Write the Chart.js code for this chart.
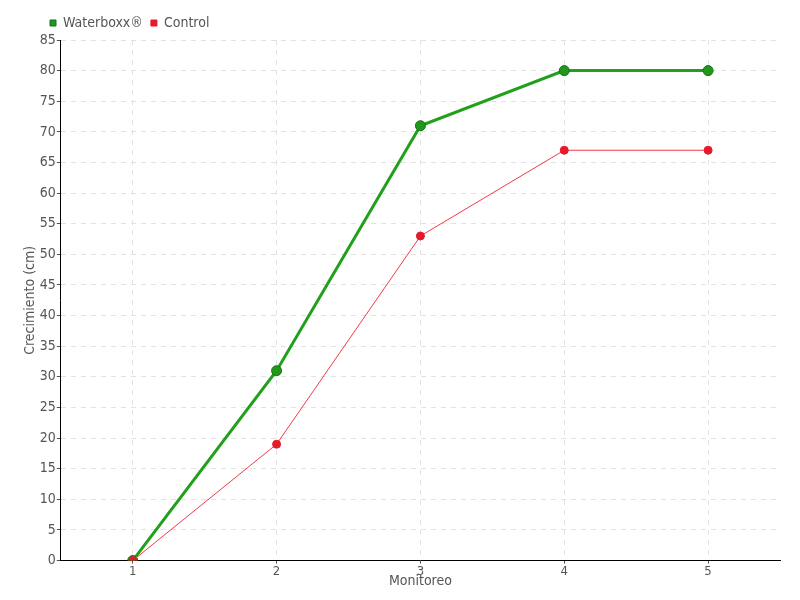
<!DOCTYPE html>
<html>
<head>
<meta charset="utf-8">
<script src="https://cdn.jsdelivr.net/npm/chart.js@4"></script>
<style>
  html, body { margin: 0; padding: 0; background: #fff; }
  #wrap { width: 800px; height: 600px; }
</style>
</head>
<body>
<div id="wrap"><canvas id="chart"></canvas></div>
<script>
const monitoreo = ['1', '2', '3', '4', '5'];
const waterboxx = [0, 31, 71, 80, 80];
const control = [0, 19, 53, 67, 67];

const FONT = "'DejaVu Sans Condensed', 'Liberation Sans Narrow', 'DejaVu Sans', sans-serif";

// nudge the legend to the right so it starts near the plot area
const legendShift = {
    id: 'legendShift',
    afterLayout(chart) {
        if (chart.legend) {
            chart.legend.left += 20;
            chart.legend.right += 20;
        }
    }
};

const ctx = document.getElementById('chart').getContext('2d');
new Chart(ctx, {
    type: 'line',
    data: {
        labels: monitoreo,
        datasets: [
            {
                label: 'Waterboxx®',
                data: waterboxx,
                borderColor: '#21a01c',
                backgroundColor: '#21a01c',
                borderWidth: 3,
                pointRadius: 5,
                pointBackgroundColor: '#21971c',
                pointBorderColor: '#17701a',
                pointBorderWidth: 1,
                tension: 0,
                order: 2
            },
            {
                label: 'Control',
                data: control,
                borderColor: '#f23a4a',
                backgroundColor: '#ee1c2e',
                borderWidth: 1,
                pointRadius: 4,
                pointBackgroundColor: '#e61a2b',
                pointBorderColor: '#e61a2b',
                pointBorderWidth: 1,
                tension: 0,
                order: 1
            }
        ]
    },
    plugins: [legendShift],
    options: {
        responsive: true,
        maintainAspectRatio: false,
        animation: false,
        layout: { padding: { left: 22, right: 20, top: 8, bottom: 6 } },
        plugins: {
            legend: {
                position: 'top',
                align: 'start',
                labels: {
                    usePointStyle: true,
                    pointStyle: 'rect',
                    boxWidth: 6,
                    boxHeight: 6,
                    padding: 8,
                    color: '#555',
                    font: { family: FONT, size: 14 },
                    sort: (a, b) => a.datasetIndex - b.datasetIndex
                }
            },
            tooltip: { enabled: false }
        },
        scales: {
            x: {
                offset: true,
                title: {
                    display: true,
                    text: 'Monitoreo',
                    color: '#555',
                    font: { family: FONT, size: 14 },
                    padding: { top: -6, bottom: 4 }
                },
                ticks: { color: '#555', font: { family: FONT, size: 13 }, padding: 0 },
                grid: { color: '#e2e2e2', tickColor: '#555', tickLength: 3, offset: false },
                border: { display: true, color: '#000', width: 1, dash: [5, 5] }
            },
            y: {
                min: 0,
                max: 85,
                title: {
                    display: true,
                    text: 'Crecimiento (cm)',
                    color: '#555',
                    font: { family: FONT, size: 14 },
                    padding: { top: 0, bottom: 0 }
                },
                ticks: { stepSize: 5, color: '#555', font: { family: FONT, size: 14 }, padding: 1 },
                grid: { color: '#e2e2e2', tickColor: '#555', tickLength: 4 },
                border: { display: true, color: '#000', width: 1, dash: [5, 5] }
            }
        }
    }
});
</script>
</body>
</html>
